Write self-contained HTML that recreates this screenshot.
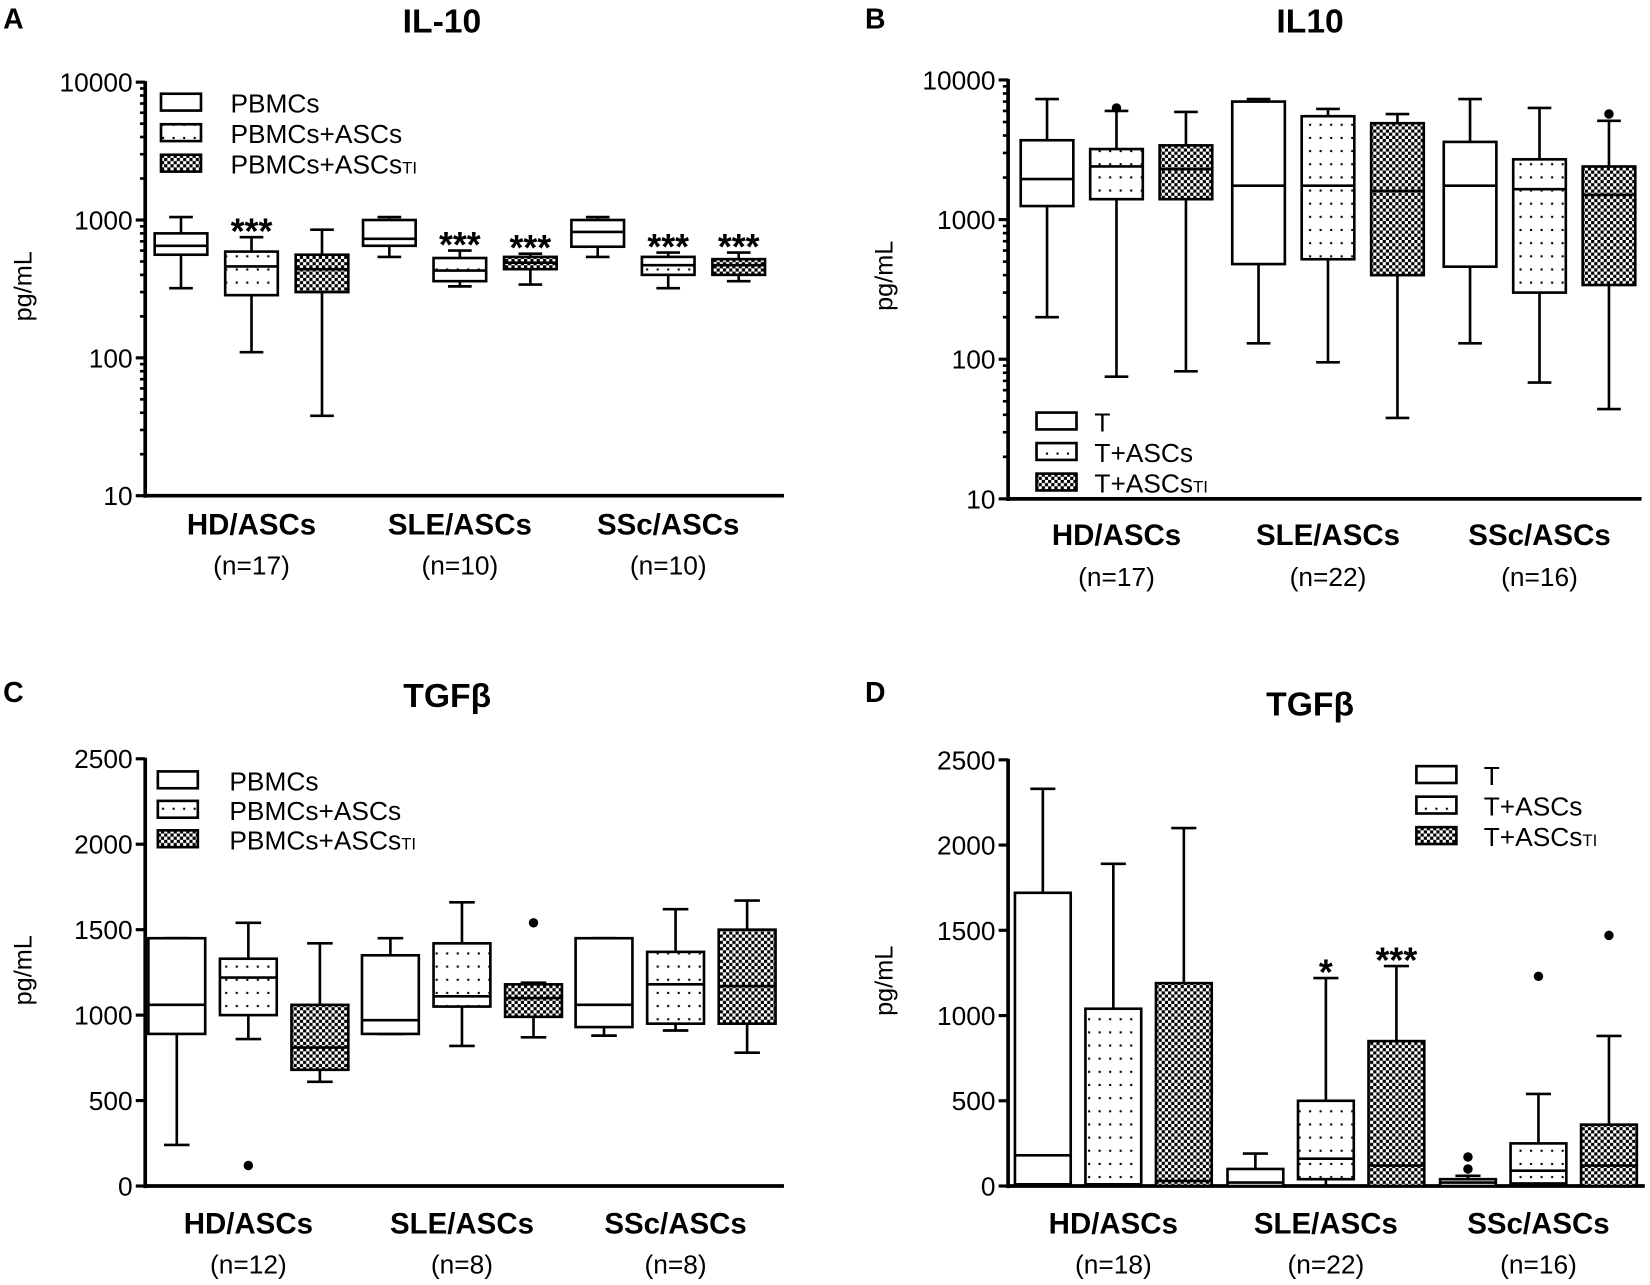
<!DOCTYPE html>
<html><head><meta charset="utf-8"><style>
html,body{margin:0;padding:0;background:#fff;}
svg{display:block;font-family:"Liberation Sans",sans-serif;}
</style></head><body>
<svg id="fig" width="1650" height="1285" viewBox="0 0 1568 1221" xmlns="http://www.w3.org/2000/svg">
<defs>
<pattern id="dots" width="10" height="12.5" patternUnits="userSpaceOnUse"><rect width="10" height="12.5" fill="#fff"/><rect x="4" y="5" width="2" height="2" fill="#000"/></pattern>
<pattern id="check" width="6" height="6" patternUnits="userSpaceOnUse"><rect width="6" height="6" fill="#fff"/><rect width="3" height="3" fill="#000"/><rect x="3" y="3" width="3" height="3" fill="#000"/></pattern>
</defs>
</svg>
<script>
// Panel A (IL-10, log)
const aCats=["HD/ASCs","SLE/ASCs","SSc/ASCs"];
const aN=["(n=17)","(n=10)","(n=10)"];
const aSeries=["PBMCs","PBMCs+ASCs","PBMCs+ASCsTI"];
const aMax=[1050,750,850,1050,600,570,1050,580,580];
const aQ3=[800,590,560,1000,530,540,1000,540,520];
const aMed=[650,460,440,730,430,490,820,470,470];
const aQ1=[560,285,300,650,360,440,640,400,400];
const aMin=[320,110,38,540,330,340,540,320,360];
const aStars=["","***","","","***","***","","***","***"];
const aOut=[];
// Panel B (IL10, log)
const bCats=["HD/ASCs","SLE/ASCs","SSc/ASCs"];
const bN=["(n=17)","(n=22)","(n=16)"];
const bSeries=["T","T+ASCs","T+ASCsTI"];
const bMax=[7300,6000,5900,7300,6200,5700,7300,6300,5100];
const bQ3=[3700,3200,3400,7000,5500,4900,3600,2700,2400];
const bMed=[1950,2400,2300,1750,1750,1600,1750,1650,1500];
const bQ1=[1250,1400,1400,480,520,400,460,300,340];
const bMin=[200,75,82,130,95,38,130,68,44];
const bStars=["","","","","","","","",""];
const bOut=[[1,6300],[8,5700]];
// Panel C (TGFb, linear)
const cCats=["HD/ASCs","SLE/ASCs","SSc/ASCs"];
const cN=["(n=12)","(n=8)","(n=8)"];
const cSeries=["PBMCs","PBMCs+ASCs","PBMCs+ASCsTI"];
const cMax=[1450,1540,1420,1450,1660,1190,1450,1620,1670];
const cQ3=[1450,1330,1060,1350,1420,1180,1450,1370,1500];
const cMed=[1060,1220,810,970,1110,1100,1060,1180,1170];
const cQ1=[890,1000,680,890,1050,990,930,950,950];
const cMin=[240,860,610,890,820,870,880,910,780];
const cStars=["","","","","","","","",""];
const cOut=[[1,120],[5,1540]];
// Panel D (TGFb, linear)
const dCats=["HD/ASCs","SLE/ASCs","SSc/ASCs"];
const dN=["(n=18)","(n=22)","(n=16)"];
const dSeries=["T","T+ASCs","T+ASCsTI"];
const dMax=[2330,1890,2100,190,1220,1290,60,540,880];
const dQ3=[1720,1040,1190,100,500,850,40,250,360];
const dMed=[180,10,30,20,160,120,20,90,120];
const dQ1=[10,0,0,0,40,0,0,15,0];
const dMin=[0,0,0,0,0,0,0,0,0];
const dStars=["","","","","*","***","","",""];
const dOut=[[6,170],[6,100],[7,1230],[8,1470]];
const yTicksLog=[10,100,1000,10000];
const yTicksLin=[0,500,1000,1500,2000,2500];

const svg=document.getElementById('fig');
const NS="http://www.w3.org/2000/svg";
function el(tag,attrs,parent,text){const e=document.createElementNS(NS,tag);for(const k in attrs)e.setAttribute(k,attrs[k]);if(text!==undefined)e.textContent=text;(parent||svg).appendChild(e);return e;}
const fills=["#fff","url(#dots)","url(#check)"];

function panel(p){
  const g=el('g',{});
  
  
  const y=p.log?(v=>p.yb-(Math.log10(v)-1)*p.dec):(v=>p.yb-v*p.ppu);
  const x=(i)=>p.x0+Math.floor(i/3)*p.gw+(i%3)*p.step;
  const lt=el('text',{x:p.lx,y:p.ly,'font-size':27,'font-weight':'bold'},g,p.letter);
  
  
  const tt=el('text',{x:p.tx,y:p.ty,'font-size':32,'font-weight':'bold','text-anchor':'middle'},g,p.title);
  
  
  const ya=el('g',{},g);
  
  
  const top=p.log?y(10000):y(2500);
  el('line',{x1:p.ax,y1:top-1,x2:p.ax,y2:p.yb+2,stroke:'#000','stroke-width':3.5},ya);
  const ticks=p.log?yTicksLog:yTicksLin;
  ticks.forEach(t=>{
    el('line',{x1:p.ax-9,y1:y(t),x2:p.ax,y2:y(t),stroke:'#000','stroke-width':3},ya);
    const tl=el('text',{x:p.ax-12,y:y(t)+9,'font-size':25,'text-anchor':'end'},ya,String(t));
    
    
  });
  if(p.log){for(let d=10;d<10000;d*=10)for(let m=2;m<10;m++){el('line',{x1:p.ax-5,y1:y(d*m),x2:p.ax,y2:y(d*m),stroke:'#000','stroke-width':2.5},ya);}}
  const yt=el('text',{x:0,y:0,'font-size':24,'text-anchor':'middle',transform:`translate(${p.ytx},${p.yty}) rotate(-90)`},g,'pg/mL');
  
  
  const xa=el('line',{x1:p.ax,y1:p.yb,x2:p.axr,y2:p.yb,stroke:'#000','stroke-width':3.5},g);
  
  
  p.cats.forEach((c,k)=>{
    const cx=x(k*3+1);
    const t1=el('text',{x:cx,y:p.yb+p.c1,'font-size':28,'font-weight':'bold','text-anchor':'middle'},g,c);
    
    
    const t2=el('text',{x:cx,y:p.yb+p.c2,'font-size':25,'text-anchor':'middle'},g,p.n[k]);
    
    
  });
  const hw=p.bw/2;
  for(let i=0;i<9;i++){
    const b=el('g',{},g);
    
    
    const cx=x(i);
    const yMax=y(p.max[i]),yQ3=y(p.q3[i]),yQ1=y(p.q1[i]),yMin=y(p.min[i]),yMed=y(p.med[i]);
    el('line',{x1:cx,y1:yMax,x2:cx,y2:yQ3,stroke:'#000','stroke-width':2.5},b);
    el('line',{x1:cx,y1:yQ1,x2:cx,y2:yMin,stroke:'#000','stroke-width':2.5},b);
    el('line',{x1:cx-hw*0.45,y1:yMax,x2:cx+hw*0.45,y2:yMax,stroke:'#000','stroke-width':2.5},b);
    el('line',{x1:cx-hw*0.45,y1:yMin,x2:cx+hw*0.45,y2:yMin,stroke:'#000','stroke-width':2.5},b);
    el('rect',{x:cx-hw,y:yQ3,width:p.bw,height:Math.max(2,yQ1-yQ3),fill:fills[i%3],stroke:'#000','stroke-width':2.5},b);
    el('line',{x1:cx-hw,y1:yMed,x2:cx+hw,y2:yMed,stroke:'#000','stroke-width':2.5},b);
    if(p.stars[i]){
      const st=el('text',{x:cx,y:yMax+6,'font-size':34,'font-weight':'bold','text-anchor':'middle'},b,p.stars[i]);
      
      
    }
  }
  p.out.forEach(o=>{
    const c=el('circle',{cx:x(o[0]),cy:y(o[1]),r:4.5,fill:'#000'},g);
    
    
  });
  const lg=el('g',{},g);
  
  
  p.series.forEach((s,k)=>{
    const ly=p.legY+k*p.legStep;
    const le=el('g',{},lg);
    
    
    el('rect',{x:p.legX,y:ly-15,width:38,height:16,fill:fills[k],stroke:'#000','stroke-width':2.5},le);
    const base=s.endsWith('TI')?s.slice(0,-2):s;
    const t=el('text',{x:p.legX+p.legTx,y:ly+3,'font-size':25},le,base);
    if(s.endsWith('TI')){el('tspan',{'font-size':16},t,'TI');}
  });
}
panel({name:'panel-a-il10',letter:'A',lx:3,ly:27,title:'IL-10',tx:420,ty:31,log:true,yb:471,dec:131,ax:138,axr:745,x0:172,gw:198,step:67,bw:50,cats:aCats,n:aN,series:aSeries,max:aMax,q3:aQ3,med:aMed,q1:aQ1,min:aMin,stars:aStars,out:aOut,ytx:30,yty:272,c1:37,c2:75,legX:153,legY:104,legStep:29,legTx:66});
panel({name:'panel-b-il10',letter:'B',lx:822,ly:27,title:'IL10',tx:1245,ty:31,log:true,yb:474,dec:132.7,ax:958,axr:1560,x0:995,gw:201,step:66,bw:50,cats:bCats,n:bN,series:bSeries,max:bMax,q3:bQ3,med:bMed,q1:bQ1,min:bMin,stars:bStars,out:bOut,ytx:848,yty:262,c1:44,c2:83,legX:985,legY:407,legStep:29,legTx:55});
panel({name:'panel-c-tgfb',letter:'C',lx:3,ly:667,title:'TGF\u03B2',tx:425,ty:672,log:false,yb:1127,ppu:0.1624,ax:138,axr:745,x0:168,gw:203,step:68,bw:54,cats:cCats,n:cN,series:cSeries,max:cMax,q3:cQ3,med:cMed,q1:cQ1,min:cMin,stars:cStars,out:cOut,ytx:30,yty:922,c1:45,c2:83,legX:150,legY:748,legStep:28,legTx:68});
panel({name:'panel-d-tgfb',letter:'D',lx:822,ly:667,title:'TGF\u03B2',tx:1245,ty:680,log:false,yb:1127,ppu:0.162,ax:958,axr:1563,x0:991,gw:202,step:67,bw:53,cats:dCats,n:dN,series:dSeries,max:dMax,q3:dQ3,med:dMed,q1:dQ1,min:dMin,stars:dStars,out:dOut,ytx:848,yty:932,c1:45,c2:83,legX:1346,legY:743,legStep:29,legTx:64});
</script>
</body></html>
